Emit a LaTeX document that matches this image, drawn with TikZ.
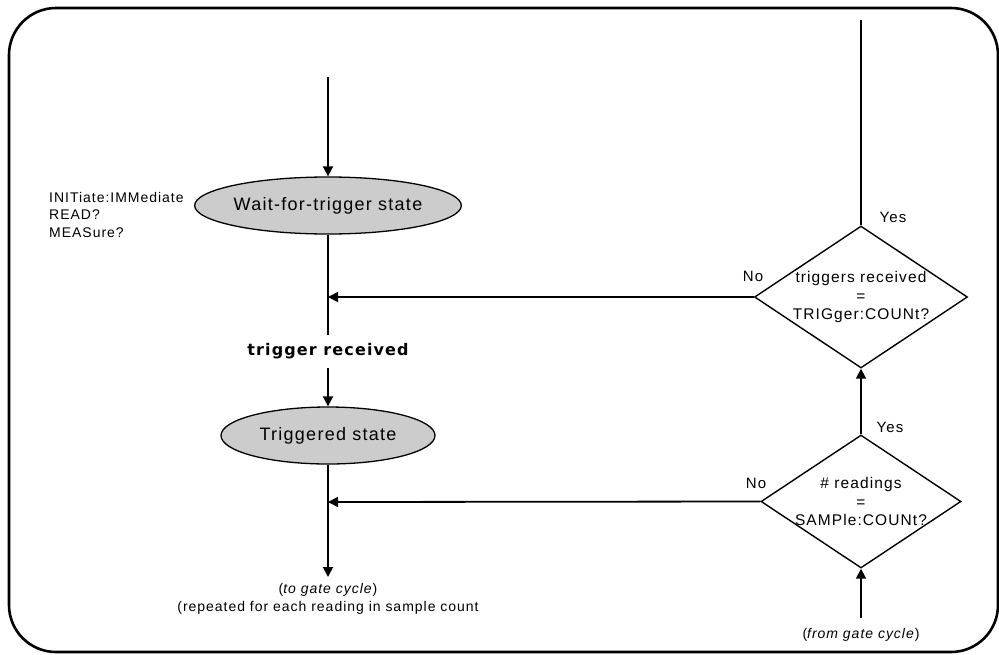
\documentclass[tikz,border=0pt]{standalone}
\usepackage{fontspec}
\setmainfont{Liberation Sans}[LetterSpace=7]
\newfontfamily\trfont{DejaVu Sans}[LetterSpace=7]
\usetikzlibrary{shapes.geometric,arrows.meta}
\begin{document}
\begin{tikzpicture}[x=1pt,y=-1pt,
  state/.style={ellipse, draw, line width=1.3pt, fill=black!20, minimum width=214pt, minimum height=57pt, inner sep=0pt, font=\fontsize{18}{22}\selectfont},
  decision/.style={diamond, draw, line width=1.4pt, inner sep=0pt},
  dtext/.style={align=center, inner sep=0pt, font=\fontsize{15.5}{18.5}\selectfont},
  lbl/.style={inner sep=0pt, font=\fontsize{15}{18}\selectfont},
  small/.style={inner sep=0pt, font=\fontsize{14}{17.5}\selectfont},
  conn/.style={line width=1.8pt},
  arr/.style={conn, -{Triangle[length=10pt,width=10pt]}}]
\useasboundingbox (0,0) rectangle (999,654);
\draw[line width=2.6pt, rounded corners=47pt] (9,8) rectangle (998,652);

% states
\node[state] (e1) at (328,205.5) {Wait-for-trigger state};
\node[state] (e2) at (328,435.5) {Triggered state};
\node[inner sep=0pt, minimum height=33pt, font=\trfont\bfseries\fontsize{16}{18}\selectfont] (tr) at (328,351.5) {trigger received};

% decisions
\node[decision, minimum width=213pt, minimum height=142pt] (d1) at (861,297) {};
\node[dtext] (d1t) at (d1) {triggers received\\=\\TRIGger:COUNt?};
\node[decision, minimum width=200pt, minimum height=133pt] (d2) at (861,501.5) {};
\node[dtext] (d2t) at (d2) {\# readings\\=\\SAMPle:COUNt?};

% labels
\node[lbl] (y1) at (893,217) {Yes};
\node[lbl] (n1) at (753,276) {No};
\node[lbl] (y2) at (890,427) {Yes};
\node[lbl] (n2) at (756,483) {No};
\node[small, align=left, anchor=west] (cmds) at (49,214.5) {INITiate:IMMediate\\READ?\\MEASure?};
\node[small, align=center] (tog) at (328,599) {(\textit{to gate cycle})\\(repeated for each reading in sample count};
\node[small] (fromg) at (861,635) {(\textit{from gate cycle})};

% coordinates
\coordinate (top) at (328,77);
\coordinate (j1) at (328,297);
\coordinate (j2) at (328,502);
\coordinate (bot) at (328,577);
\coordinate (d1up) at (861,20);
\coordinate (d2in) at (861,618);

% connectors
\draw[arr] (top) -- (e1.north);
\draw[conn] (e1.south) -- (tr.north);
\draw[arr] (tr.south) -- (e2.north);
\draw[arr] (e2.south) -- (bot);
\draw[arr] (d1.west) -- (j1);
\draw[arr] (d2.west) -- (j2);
\draw[arr] (d2.north) -- (d1.south);
\draw[arr] (d2in) -- (d2.south);
\draw[conn] (d1.north) -- (d1up);
\end{tikzpicture}
\end{document}
